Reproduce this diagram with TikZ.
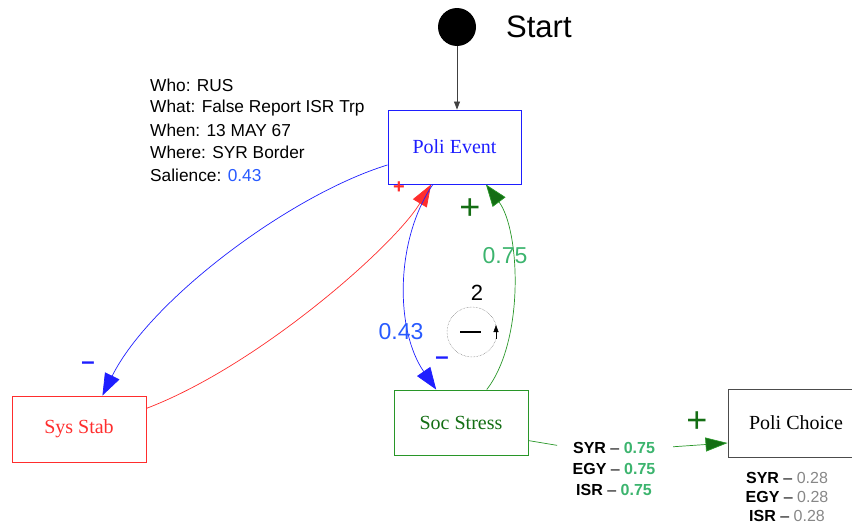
\documentclass[tikz,border=0pt]{standalone}
\usepackage{fontspec}
\setmainfont{Liberation Serif}
\setsansfont{Liberation Sans}
\usetikzlibrary{arrows.meta}
\definecolor{lblue}{RGB}{30,30,255}
\definecolor{tblue}{RGB}{40,90,255}
\definecolor{lred}{RGB}{255,45,45}
\definecolor{lgreen}{RGB}{40,150,40}
\definecolor{dgreen}{RGB}{20,110,20}
\definecolor{tgreen}{RGB}{60,180,110}
\definecolor{vgray}{RGB}{135,135,135}
\tikzset{
  box/.style={draw, line width=0.9pt, minimum width=133pt, minimum height=70pt, font=\rmfamily\fontsize{20}{22}\selectfont, inner sep=0pt},
  lbl/.style={font=\sffamily\fontsize{23}{25}\selectfont, inner sep=0pt},
  info/.style={font=\sffamily\fontsize{17.3}{19}\selectfont, anchor=west, inner sep=0pt},
  val/.style={font=\sffamily\fontsize{16}{18}\selectfont, inner sep=0pt},
  sign/.style={font=\sffamily\bfseries\fontsize{24}{26}\selectfont, inner sep=0pt},
  tip/.style={-{Triangle[length=22pt,width=16pt]}},
  conn/.style={line width=0.7pt}
}
\begin{document}
\begin{tikzpicture}[x=1pt,y=-1pt]
\useasboundingbox (0,0) rectangle (852,525);
% start
\node[circle, fill=black, minimum size=38pt, inner sep=0pt] (start) at (457,27) {};
\node[font=\sffamily\fontsize{31}{33}\selectfont, anchor=west, inner sep=0pt] (starttxt) at (506,27) {Start};
% boxes
\node[box, draw=lblue, text=lblue, minimum height=74pt] (pe) at (454.5,147) {Poli Event};
\node[box, draw=lred, text=lred, minimum width=134pt, minimum height=66pt] (ss) at (79,429) {Sys Stab};
\node[box, draw=lgreen, text=dgreen, minimum width=134pt, minimum height=65pt] (soc) at (461,422.5) {Soc Stress};
\node[box, draw=black!70, text=black, minimum width=140pt, minimum height=68pt] (pc) at (798,423) {};
\node[font=\rmfamily\fontsize{20}{22}\selectfont, inner sep=0pt] (pctxt) at (796,423) {Poli Choice};
% info text
\node[info] (who) at (150,85) {Who: RUS};
\node[info] (what) at (150,108) {What: False Report ISR Trp};
\node[info] (when) at (150,130) {When: 13 MAY 67};
\node[info] (where) at (150,152) {Where: SYR Border};
\node[info] (sal) at (150,175) {Salience: \textcolor{tblue}{0.43}};
% start arrow
\draw[black!75, line width=0.6pt, -{Triangle[length=8pt,width=6pt]}] (start) -- (pe.north -| start);
% blue PE -> Sys Stab
\draw[conn, lblue, tip] (pe.195) .. controls (290,195) and (150,300) .. (ss.55);
\node[sign, text=lblue] (m1) at (88,366) {–};
% red Sys Stab -> PE
\draw[conn, lred, tip] (ss.17) .. controls (260,365) and (395,245) .. (pe.238);
\node[font=\sffamily\bfseries\fontsize{20}{22}\selectfont, text=lred, inner sep=0pt] (p1) at (399,188) {+};
% blue PE -> Soc
\draw[conn, lblue, tip] (pe.240) .. controls (395,240) and (395,330) .. (soc.127);
\node[lbl, text=tblue] (v43) at (401,332) {0.43};
\node[sign, text=lblue] (m2) at (442,361) {–};
% green Soc -> PE
\draw[conn, lgreen, -{Triangle[length=22pt,width=16pt, fill=dgreen]}] (soc.52) .. controls (525,340) and (520,230) .. (pe.310);
\node[lbl, text=tgreen] (v75) at (505,256) {0.75};
\node[font=\sffamily\fontsize{36}{38}\selectfont, text=dgreen, inner sep=0pt] (p2) at (470,209) {+};
% self loop
\node[circle, draw=black!55, densely dotted, line width=0.5pt, minimum size=50pt, inner sep=0pt] (loop) at (472,332) {};
\node[font=\sffamily\fontsize{22}{24}\selectfont, inner sep=0pt] (two) at (477,293) {2};
\draw[line width=1.3pt] (460,332) -- (481,332);
\coordinate (la) at (496,339);
\coordinate (lb) at (496,325);
\draw[black, -{Triangle[length=7pt,width=5pt]}] (la) -- (lb);
% soc -> poli choice
\node[val] (syr1) at (614,448) {\textbf{SYR} – \textcolor{tgreen}{\textbf{0.75}}};
\node[val] (egy1) at (614,469) {\textbf{EGY} – \textcolor{tgreen}{\textbf{0.75}}};
\node[val] (isr1) at (614,490) {\textbf{ISR} – \textcolor{tgreen}{\textbf{0.75}}};
\draw[conn, lgreen, shorten >=16pt] (soc.345) -- (syr1.west);
\draw[conn, lgreen, shorten <=18pt, -{Triangle[length=22pt,width=14pt, fill=dgreen]}] (syr1.east) -- (pc.west |- 0,443);
\node[font=\sffamily\fontsize{36}{38}\selectfont, text=dgreen, inner sep=0pt] (p3) at (697,422) {+};
\node[val] (syr2) at (787,478) {\textbf{SYR} – \textcolor{vgray}{0.28}};
\node[val] (egy2) at (787,497) {\textbf{EGY} – \textcolor{vgray}{0.28}};
\node[val] (isr2) at (787,516) {\textbf{ISR} – \textcolor{vgray}{0.28}};
\end{tikzpicture}
\end{document}
